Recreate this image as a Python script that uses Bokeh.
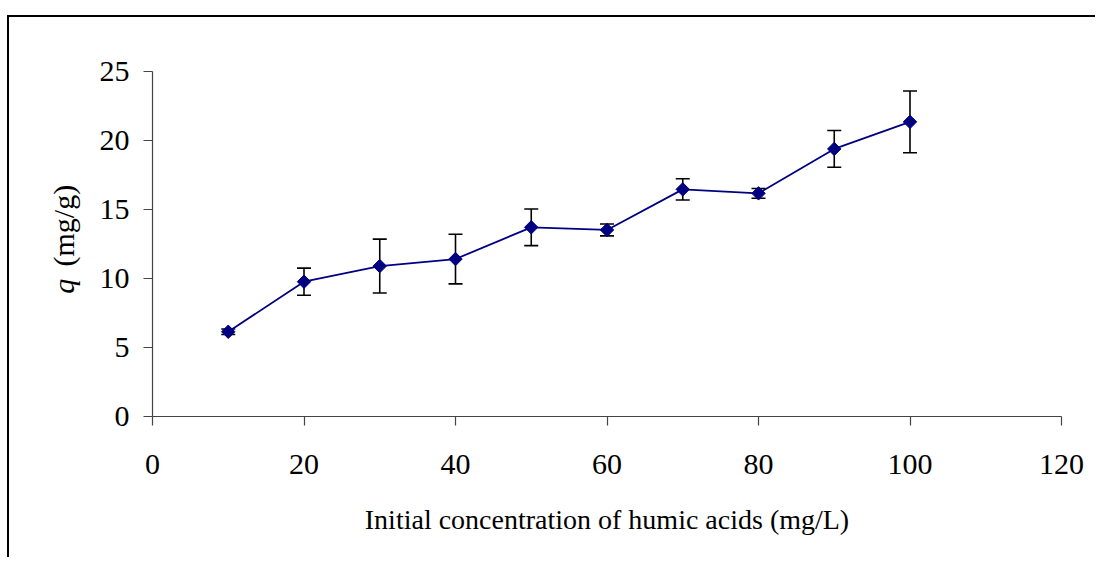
import math
from bokeh.plotting import figure
from bokeh.layouts import row
from bokeh.models import Range1d, ColumnDataSource, Whisker, TeeHead, FixedTicker
from bokeh.core.properties import value
from bokeh.embed import file_html
from bokeh.resources import INLINE

# Data
conc = [10, 20, 30, 40, 50, 60, 70, 80, 90, 100]
q_vals = [6.14, 9.77, 10.9, 11.41, 13.71, 13.52, 16.46, 16.17, 19.39, 21.35]
q_err = [0.2, 0.98, 1.95, 1.8, 1.33, 0.43, 0.77, 0.35, 1.33, 2.24]
x_ticks = [0, 20, 40, 60, 80, 100, 120]
y_ticks = [0, 5, 10, 15, 20, 25]
y_label_parts = ["q", "(mg/g)"]

FONT = "Liberation Serif"
H = 540
LEFT_W = 80

src = ColumnDataSource(dict(
    x=conc, y=q_vals,
    upper=[v + e for v, e in zip(q_vals, q_err)],
    lower=[v - e for v, e in zip(q_vals, q_err)],
))

# Left strip holding the y-axis title (italic q + units); its frame is aligned
# with the main frame, so it shares the same y scale (0..25)
lab = figure(width=LEFT_W, height=H, output_backend="svg", toolbar_location=None,
             x_range=Range1d(0, LEFT_W), y_range=Range1d(0, 25),
             x_axis_type=None, y_axis_type=None, min_border=0)
lab.outline_line_color = None
lab.xgrid.visible = False
lab.ygrid.visible = False
lab.text(x=[54], y=[8.9], text=[y_label_parts[0]], angle=math.pi / 2,
         text_align="left", text_baseline="middle", text_font=value(FONT),
         text_font_size="30px", text_font_style="italic", text_color="black")
lab.text(x=[54], y=[10.87], text=[y_label_parts[1]], angle=math.pi / 2,
         text_align="left", text_baseline="middle", text_font=value(FONT),
         text_font_size="30px", text_color="black")

p = figure(width=1086 - LEFT_W, height=H, output_backend="svg", toolbar_location=None,
           x_range=Range1d(0, 120), y_range=Range1d(0, 25),
           min_border_left=63, min_border_top=54, min_border_bottom=H - 54 - 345,
           min_border_right=34)
p.outline_line_color = None
p.xgrid.visible = False
p.ygrid.visible = False
p.background_fill_color = "white"
p.border_fill_color = "white"

for ax in (p.xaxis[0], p.yaxis[0]):
    ax.axis_line_color = "#444444"
    ax.axis_line_width = 1.2
    ax.major_tick_line_color = "#444444"
    ax.major_tick_line_width = 1.2
    ax.major_tick_out = 9
    ax.major_tick_in = 0
    ax.minor_tick_line_color = None
    ax.major_label_text_font = FONT
    ax.major_label_text_font_size = "30px"
    ax.major_label_text_color = "black"

p.xaxis[0].ticker = FixedTicker(ticks=x_ticks)
p.yaxis[0].ticker = FixedTicker(ticks=y_ticks)
p.xaxis[0].major_label_standoff = 29
p.yaxis[0].major_label_standoff = 14
p.xaxis[0].axis_label = "Initial concentration of humic acids (mg/L)"
p.xaxis[0].axis_label_text_font = FONT
p.xaxis[0].axis_label_text_font_size = "28px"
p.xaxis[0].axis_label_text_font_style = "normal"
p.xaxis[0].axis_label_text_color = "black"
p.xaxis[0].axis_label_standoff = 27

whisk = Whisker(source=src, base="x", upper="upper", lower="lower",
                line_color="black", line_width=1.6,
                upper_head=TeeHead(size=14, line_color="black", line_width=1.6),
                lower_head=TeeHead(size=14, line_color="black", line_width=1.6))
p.add_layout(whisk)

p.line("x", "y", source=src, line_color="#000080", line_width=1.8)
p.scatter("x", "y", source=src, marker="square", angle=math.pi / 4, size=9.5,
          fill_color="#000080", line_color="#000080")

layout = row(lab, p, spacing=0)
layout.styles = {"margin-top": "15px", "margin-left": "7px",
                 "border-top": "2px solid black", "border-left": "2px solid black"}

open("out.html", "w").write(file_html(layout, INLINE))
